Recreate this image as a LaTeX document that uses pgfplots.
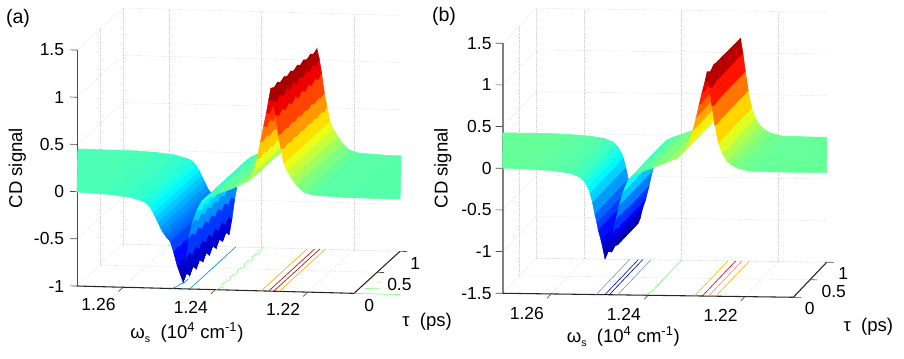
\documentclass[border=0pt]{standalone}
\usepackage{fontspec}
\setmainfont{Liberation Sans}
\usepackage{pgfplots}
\pgfplotsset{compat=1.18}
\newcommand\lab{\fontsize{13.1}{15}\selectfont}
\newcommand\labb{\fontsize{13.9}{16}\selectfont}
\pgfplotsset{common/.style={
 x dir=reverse,
 xmin=1.21,xmax=1.27,ymin=0,ymax=1,
 xtick={1.22,1.24,1.26},ytick={0,0.5,1},
 clip=false,
 grid=major,grid style={densely dotted,gray!40},
 axis line style={draw=none},major tick length=0pt,
 /pgf/number format/assume math mode=true,
 xticklabel style={/pgf/number format/fixed,/pgf/number format/precision=2,font=\lab,anchor=center,inner sep=0pt},
 yticklabel style={font=\lab,anchor=west,inner sep=0pt},
 zticklabel style={font=\lab,anchor=east,inner sep=0pt},
 colormap/jet,
 xlabel={ω\raisebox{-3pt}{\footnotesize s}\ \ (10\textsuperscript{4} cm\textsuperscript{-1})},
 ylabel={τ\ \ (ps)},zlabel={CD signal},
}}
\begin{document}
\begin{tikzpicture}
\useasboundingbox (0,0) rectangle (678pt,268.5pt);
\node[font=\fontsize{14.7}{17}\selectfont] at (13.5pt,255pt) {(a)};
\node[font=\fontsize{14.7}{17}\selectfont] at (333pt,256.5pt) {(b)};
\begin{axis}[common,
 at={(265.5pt,119.3pt)},anchor=origin,
 x={(3462.75pt,-91.3pt)},y={(34.5pt,31.5pt)},z={(0pt,70.8pt)},
 zmin=-1,zmax=1.5,ztick={-1,-0.5,0,0.5,1,1.5},
 point meta min=-0.95,point meta max=1.15,
 xticklabel style={xshift=-18.5pt,yshift=-13.2pt},
 yticklabel style={xshift=7.5pt,yshift=-9pt},
 zticklabel style={xshift=-9.5pt},
 every axis x label/.style={at={(axis cs:1.236,-1.021,-1)},anchor=center,font=\labb},
 every axis y label/.style={at={(axis cs:1.188,-0.62,-1)},anchor=center,font=\labb},
 every axis z label/.style={at={(axis cs:1.2829,0,0.233)},anchor=center,rotate=90,font=\labb},
]
\draw[black!70,line width=0.7pt] (axis cs:1.27,0,-1) -- (axis cs:1.27,0,1.5);
\draw[black!85,line width=0.8pt] (axis cs:1.27,0,-1) -- (axis cs:1.21,0,-1) -- (axis cs:1.21,1,-1);
\draw[black!70,line width=0.5pt]
 (axis cs:1.27,0,-1) -- (axis cs:1.2715,0,-1) (axis cs:1.27,0,-0.5) -- (axis cs:1.2715,0,-0.5)
 (axis cs:1.27,0,0) -- (axis cs:1.2715,0,0) (axis cs:1.27,0,0.5) -- (axis cs:1.2715,0,0.5)
 (axis cs:1.27,0,1) -- (axis cs:1.2715,0,1) (axis cs:1.27,0,1.5) -- (axis cs:1.2715,0,1.5)
 (axis cs:1.21,0,-1) -- (axis cs:1.2085,0,-1) (axis cs:1.21,0.5,-1) -- (axis cs:1.2085,0.5,-1)
 (axis cs:1.21,1,-1) -- (axis cs:1.2085,1,-1)
 (axis cs:1.26,0,-1) -- (axis cs:1.26,-0.1,-1) (axis cs:1.24,0,-1) -- (axis cs:1.24,-0.1,-1)
 (axis cs:1.22,0,-1) -- (axis cs:1.22,-0.1,-1);
\addplot3[color=cyan!60!blue,line width=0.45pt,forget plot] coordinates {(1.2494,0,-1)(1.2488,0.06,-1)(1.2488,0.1,-1)(1.2482,0.14,-1)(1.2482,0.23,-1)};
\addplot3[color=blue!50!cyan,line width=0.45pt,forget plot] coordinates {(1.2456,0,-1)(1.2456,1,-1)};
\addplot3[color=green!45!white,line width=0.5pt,forget plot] coordinates {(1.2398,0,-1)(1.2392,0.07,-1)(1.2398,0.15,-1)(1.2392,0.24,-1)(1.2398,0.3,-1)(1.2392,0.4,-1)(1.2398,0.46,-1)(1.2392,0.55,-1)(1.2398,0.62,-1)(1.2392,0.72,-1)(1.2398,0.79,-1)(1.2392,0.88,-1)(1.2398,1,-1)};
\addplot3[color=orange!70!yellow,line width=0.45pt,forget plot] coordinates {(1.2301,0,-1)(1.2301,1,-1)};
\addplot3[color=red!70!black,line width=0.45pt,forget plot] coordinates {(1.2285,0,-1)(1.2285,1,-1)};
\addplot3[color=red!70!black,line width=0.45pt,forget plot] coordinates {(1.2274,0,-1)(1.2274,1,-1)};
\addplot3[color=orange!70!yellow,line width=0.45pt,forget plot] coordinates {(1.2262,0,-1)(1.2262,1,-1)};
\addplot3[color=green!50!white,line width=0.5pt,forget plot] coordinates {(1.21,0,-1)(1.20,0,-1)};
\addplot3[color=green!50!white,line width=0.5pt,forget plot] coordinates {(1.2088,0.12,-1)(1.2056,0.12,-1)};
\addplot3[color=green!50!white,line width=0.5pt,forget plot] coordinates {(1.2078,0.276,-1)(1.2067,0.276,-1)};
\addplot3[surf,shader=flat,z buffer=none,mesh/cols=51] table {
1.2097 1 0.012
1.212 1 0.012
1.219 1 0.03
1.221 1 0.06
1.2225 1 0.13
1.2235 1 0.2
1.2245 1 0.28
1.2252 1 0.36
1.2258 1 0.51
1.2264 1 0.66
1.227 1 0.87
1.2275 1 1.02
1.228 1 1.12
1.2285 1 1.02
1.229 1 0.88
1.2296 1 0.74
1.2303 1 0.57
1.231 1 0.39
1.2318 1 0.24
1.2328 1 0.16
1.2345 1 0.12
1.2365 1 0.075
1.2405 1 0
1.242 1 -0.035
1.243 1 -0.07
1.2438 1 -0.145
1.2445 1 -0.23
1.2452 1 -0.335
1.2458 1 -0.49
1.2464 1 -0.705
1.247 1 -0.87
1.2476 1 -0.85
1.2483 1 -0.755
1.2491 1 -0.61
1.2498 1 -0.5
1.2502 1 -0.48
1.2506 1 -0.46
1.251 1 -0.43
1.2515 1 -0.4
1.252 1 -0.35
1.2525 1 -0.3
1.253 1 -0.25
1.2535 1 -0.2
1.2541 1 -0.15
1.2548 1 -0.11
1.2556 1 -0.085
1.2565 1 -0.07
1.259 1 -0.04
1.263 1 -0.02
1.267 1 -0.01
1.2797 1 -0.005

1.2091 0.929 0.012
1.212 0.929 0.012
1.219 0.929 0.03
1.221 0.929 0.06
1.2225 0.929 0.13
1.2235 0.929 0.2
1.2245 0.929 0.28
1.2252 0.929 0.36
1.2258 0.929 0.49
1.2264 0.929 0.64
1.227 0.929 0.83
1.2275 0.929 0.98
1.228 0.929 1.097
1.2285 0.929 0.98
1.229 0.929 0.84
1.2296 0.929 0.7
1.2303 0.929 0.55
1.231 0.929 0.37
1.2318 0.929 0.24
1.2328 0.929 0.16
1.2345 0.929 0.12
1.2365 0.929 0.075
1.2405 0.929 0
1.242 0.929 -0.035
1.243 0.929 -0.07
1.2438 0.929 -0.135
1.2445 0.929 -0.21
1.2452 0.929 -0.305
1.2458 0.929 -0.45
1.2464 0.929 -0.655
1.247 0.929 -0.814
1.2476 0.929 -0.81
1.2483 0.929 -0.725
1.2491 0.929 -0.59
1.2498 0.929 -0.5
1.2502 0.929 -0.48
1.2506 0.929 -0.46
1.251 0.929 -0.43
1.2515 0.929 -0.4
1.252 0.929 -0.35
1.2525 0.929 -0.3
1.253 0.929 -0.25
1.2535 0.929 -0.2
1.2541 0.929 -0.15
1.2548 0.929 -0.11
1.2556 0.929 -0.085
1.2565 0.929 -0.07
1.259 0.929 -0.04
1.263 0.929 -0.02
1.267 0.929 -0.01
1.2791 0.929 -0.005

1.2084 0.857 0.012
1.212 0.857 0.012
1.219 0.857 0.03
1.221 0.857 0.06
1.2225 0.857 0.13
1.2235 0.857 0.2
1.2245 0.857 0.28
1.2252 0.857 0.36
1.2258 0.857 0.51
1.2264 0.857 0.66
1.227 0.857 0.87
1.2275 0.857 1.02
1.228 0.857 1.124
1.2285 0.857 1.02
1.229 0.857 0.88
1.2296 0.857 0.74
1.2303 0.857 0.57
1.231 0.857 0.39
1.2318 0.857 0.24
1.2328 0.857 0.16
1.2345 0.857 0.12
1.2365 0.857 0.075
1.2405 0.857 0
1.242 0.857 -0.035
1.243 0.857 -0.07
1.2438 0.857 -0.145
1.2445 0.857 -0.23
1.2452 0.857 -0.335
1.2458 0.857 -0.49
1.2464 0.857 -0.705
1.247 0.857 -0.879
1.2476 0.857 -0.85
1.2483 0.857 -0.755
1.2491 0.857 -0.61
1.2498 0.857 -0.5
1.2502 0.857 -0.48
1.2506 0.857 -0.46
1.251 0.857 -0.43
1.2515 0.857 -0.4
1.252 0.857 -0.35
1.2525 0.857 -0.3
1.253 0.857 -0.25
1.2535 0.857 -0.2
1.2541 0.857 -0.15
1.2548 0.857 -0.11
1.2556 0.857 -0.085
1.2565 0.857 -0.07
1.259 0.857 -0.04
1.263 0.857 -0.02
1.267 0.857 -0.01
1.2784 0.857 -0.005

1.2077 0.786 0.012
1.212 0.786 0.012
1.219 0.786 0.03
1.221 0.786 0.06
1.2225 0.786 0.13
1.2235 0.786 0.2
1.2245 0.786 0.28
1.2252 0.786 0.36
1.2258 0.786 0.49
1.2264 0.786 0.64
1.227 0.786 0.83
1.2275 0.786 0.98
1.228 0.786 1.101
1.2285 0.786 0.98
1.229 0.786 0.84
1.2296 0.786 0.7
1.2303 0.786 0.55
1.231 0.786 0.37
1.2318 0.786 0.24
1.2328 0.786 0.16
1.2345 0.786 0.12
1.2365 0.786 0.075
1.2405 0.786 0
1.242 0.786 -0.035
1.243 0.786 -0.07
1.2438 0.786 -0.135
1.2445 0.786 -0.21
1.2452 0.786 -0.305
1.2458 0.786 -0.45
1.2464 0.786 -0.655
1.247 0.786 -0.823
1.2476 0.786 -0.81
1.2483 0.786 -0.725
1.2491 0.786 -0.59
1.2498 0.786 -0.5
1.2502 0.786 -0.48
1.2506 0.786 -0.46
1.251 0.786 -0.43
1.2515 0.786 -0.4
1.252 0.786 -0.35
1.2525 0.786 -0.3
1.253 0.786 -0.25
1.2535 0.786 -0.2
1.2541 0.786 -0.15
1.2548 0.786 -0.11
1.2556 0.786 -0.085
1.2565 0.786 -0.07
1.259 0.786 -0.04
1.263 0.786 -0.02
1.267 0.786 -0.01
1.2777 0.786 -0.005

1.207 0.714 0.012
1.212 0.714 0.012
1.219 0.714 0.03
1.221 0.714 0.06
1.2225 0.714 0.13
1.2235 0.714 0.2
1.2245 0.714 0.28
1.2252 0.714 0.36
1.2258 0.714 0.51
1.2264 0.714 0.66
1.227 0.714 0.87
1.2275 0.714 1.02
1.228 0.714 1.129
1.2285 0.714 1.02
1.229 0.714 0.88
1.2296 0.714 0.74
1.2303 0.714 0.57
1.231 0.714 0.39
1.2318 0.714 0.24
1.2328 0.714 0.16
1.2345 0.714 0.12
1.2365 0.714 0.075
1.2405 0.714 0
1.242 0.714 -0.035
1.243 0.714 -0.07
1.2438 0.714 -0.145
1.2445 0.714 -0.23
1.2452 0.714 -0.335
1.2458 0.714 -0.49
1.2464 0.714 -0.705
1.247 0.714 -0.887
1.2476 0.714 -0.85
1.2483 0.714 -0.755
1.2491 0.714 -0.61
1.2498 0.714 -0.5
1.2502 0.714 -0.48
1.2506 0.714 -0.46
1.251 0.714 -0.43
1.2515 0.714 -0.4
1.252 0.714 -0.35
1.2525 0.714 -0.3
1.253 0.714 -0.25
1.2535 0.714 -0.2
1.2541 0.714 -0.15
1.2548 0.714 -0.11
1.2556 0.714 -0.085
1.2565 0.714 -0.07
1.259 0.714 -0.04
1.263 0.714 -0.02
1.267 0.714 -0.01
1.277 0.714 -0.005

1.2063 0.643 0.012
1.212 0.643 0.012
1.219 0.643 0.03
1.221 0.643 0.06
1.2225 0.643 0.13
1.2235 0.643 0.2
1.2245 0.643 0.28
1.2252 0.643 0.36
1.2258 0.643 0.49
1.2264 0.643 0.64
1.227 0.643 0.83
1.2275 0.643 0.98
1.228 0.643 1.106
1.2285 0.643 0.98
1.229 0.643 0.84
1.2296 0.643 0.7
1.2303 0.643 0.55
1.231 0.643 0.37
1.2318 0.643 0.24
1.2328 0.643 0.16
1.2345 0.643 0.12
1.2365 0.643 0.075
1.2405 0.643 0
1.242 0.643 -0.035
1.243 0.643 -0.07
1.2438 0.643 -0.135
1.2445 0.643 -0.21
1.2452 0.643 -0.305
1.2458 0.643 -0.45
1.2464 0.643 -0.655
1.247 0.643 -0.831
1.2476 0.643 -0.81
1.2483 0.643 -0.725
1.2491 0.643 -0.59
1.2498 0.643 -0.5
1.2502 0.643 -0.48
1.2506 0.643 -0.46
1.251 0.643 -0.43
1.2515 0.643 -0.4
1.252 0.643 -0.35
1.2525 0.643 -0.3
1.253 0.643 -0.25
1.2535 0.643 -0.2
1.2541 0.643 -0.15
1.2548 0.643 -0.11
1.2556 0.643 -0.085
1.2565 0.643 -0.07
1.259 0.643 -0.04
1.263 0.643 -0.02
1.267 0.643 -0.01
1.2763 0.643 -0.005

1.2056 0.571 0.012
1.212 0.571 0.012
1.219 0.571 0.03
1.221 0.571 0.06
1.2225 0.571 0.13
1.2235 0.571 0.2
1.2245 0.571 0.28
1.2252 0.571 0.36
1.2258 0.571 0.51
1.2264 0.571 0.66
1.227 0.571 0.87
1.2275 0.571 1.02
1.228 0.571 1.133
1.2285 0.571 1.02
1.229 0.571 0.88
1.2296 0.571 0.74
1.2303 0.571 0.57
1.231 0.571 0.39
1.2318 0.571 0.24
1.2328 0.571 0.16
1.2345 0.571 0.12
1.2365 0.571 0.075
1.2405 0.571 0
1.242 0.571 -0.035
1.243 0.571 -0.07
1.2438 0.571 -0.145
1.2445 0.571 -0.23
1.2452 0.571 -0.335
1.2458 0.571 -0.49
1.2464 0.571 -0.705
1.247 0.571 -0.896
1.2476 0.571 -0.85
1.2483 0.571 -0.755
1.2491 0.571 -0.61
1.2498 0.571 -0.5
1.2502 0.571 -0.48
1.2506 0.571 -0.46
1.251 0.571 -0.43
1.2515 0.571 -0.4
1.252 0.571 -0.35
1.2525 0.571 -0.3
1.253 0.571 -0.25
1.2535 0.571 -0.2
1.2541 0.571 -0.15
1.2548 0.571 -0.11
1.2556 0.571 -0.085
1.2565 0.571 -0.07
1.259 0.571 -0.04
1.263 0.571 -0.02
1.267 0.571 -0.01
1.2756 0.571 -0.005

1.2049 0.5 0.012
1.212 0.5 0.012
1.219 0.5 0.03
1.221 0.5 0.06
1.2225 0.5 0.13
1.2235 0.5 0.2
1.2245 0.5 0.28
1.2252 0.5 0.36
1.2258 0.5 0.49
1.2264 0.5 0.64
1.227 0.5 0.83
1.2275 0.5 0.98
1.228 0.5 1.11
1.2285 0.5 0.98
1.229 0.5 0.84
1.2296 0.5 0.7
1.2303 0.5 0.55
1.231 0.5 0.37
1.2318 0.5 0.24
1.2328 0.5 0.16
1.2345 0.5 0.12
1.2365 0.5 0.075
1.2405 0.5 0
1.242 0.5 -0.035
1.243 0.5 -0.07
1.2438 0.5 -0.135
1.2445 0.5 -0.21
1.2452 0.5 -0.305
1.2458 0.5 -0.45
1.2464 0.5 -0.655
1.247 0.5 -0.84
1.2476 0.5 -0.81
1.2483 0.5 -0.725
1.2491 0.5 -0.59
1.2498 0.5 -0.5
1.2502 0.5 -0.48
1.2506 0.5 -0.46
1.251 0.5 -0.43
1.2515 0.5 -0.4
1.252 0.5 -0.35
1.2525 0.5 -0.3
1.253 0.5 -0.25
1.2535 0.5 -0.2
1.2541 0.5 -0.15
1.2548 0.5 -0.11
1.2556 0.5 -0.085
1.2565 0.5 -0.07
1.259 0.5 -0.04
1.263 0.5 -0.02
1.267 0.5 -0.01
1.2749 0.5 -0.005

1.2042 0.429 0.012
1.212 0.429 0.012
1.219 0.429 0.03
1.221 0.429 0.06
1.2225 0.429 0.13
1.2235 0.429 0.2
1.2245 0.429 0.28
1.2252 0.429 0.36
1.2258 0.429 0.51
1.2264 0.429 0.66
1.227 0.429 0.87
1.2275 0.429 1.02
1.228 0.429 1.137
1.2285 0.429 1.02
1.229 0.429 0.88
1.2296 0.429 0.74
1.2303 0.429 0.57
1.231 0.429 0.39
1.2318 0.429 0.24
1.2328 0.429 0.16
1.2345 0.429 0.12
1.2365 0.429 0.075
1.2405 0.429 0
1.242 0.429 -0.035
1.243 0.429 -0.07
1.2438 0.429 -0.145
1.2445 0.429 -0.23
1.2452 0.429 -0.335
1.2458 0.429 -0.49
1.2464 0.429 -0.705
1.247 0.429 -0.904
1.2476 0.429 -0.85
1.2483 0.429 -0.755
1.2491 0.429 -0.61
1.2498 0.429 -0.5
1.2502 0.429 -0.48
1.2506 0.429 -0.46
1.251 0.429 -0.43
1.2515 0.429 -0.4
1.252 0.429 -0.35
1.2525 0.429 -0.3
1.253 0.429 -0.25
1.2535 0.429 -0.2
1.2541 0.429 -0.15
1.2548 0.429 -0.11
1.2556 0.429 -0.085
1.2565 0.429 -0.07
1.259 0.429 -0.04
1.263 0.429 -0.02
1.267 0.429 -0.01
1.2742 0.429 -0.005

1.2035 0.357 0.012
1.212 0.357 0.012
1.219 0.357 0.03
1.221 0.357 0.06
1.2225 0.357 0.13
1.2235 0.357 0.2
1.2245 0.357 0.28
1.2252 0.357 0.36
1.2258 0.357 0.49
1.2264 0.357 0.64
1.227 0.357 0.83
1.2275 0.357 0.98
1.228 0.357 1.114
1.2285 0.357 0.98
1.229 0.357 0.84
1.2296 0.357 0.7
1.2303 0.357 0.55
1.231 0.357 0.37
1.2318 0.357 0.24
1.2328 0.357 0.16
1.2345 0.357 0.12
1.2365 0.357 0.075
1.2405 0.357 0
1.242 0.357 -0.035
1.243 0.357 -0.07
1.2438 0.357 -0.135
1.2445 0.357 -0.21
1.2452 0.357 -0.305
1.2458 0.357 -0.45
1.2464 0.357 -0.655
1.247 0.357 -0.849
1.2476 0.357 -0.81
1.2483 0.357 -0.725
1.2491 0.357 -0.59
1.2498 0.357 -0.5
1.2502 0.357 -0.48
1.2506 0.357 -0.46
1.251 0.357 -0.43
1.2515 0.357 -0.4
1.252 0.357 -0.35
1.2525 0.357 -0.3
1.253 0.357 -0.25
1.2535 0.357 -0.2
1.2541 0.357 -0.15
1.2548 0.357 -0.11
1.2556 0.357 -0.085
1.2565 0.357 -0.07
1.259 0.357 -0.04
1.263 0.357 -0.02
1.267 0.357 -0.01
1.2735 0.357 -0.005

1.2028 0.286 0.012
1.212 0.286 0.012
1.219 0.286 0.03
1.221 0.286 0.06
1.2225 0.286 0.13
1.2235 0.286 0.2
1.2245 0.286 0.28
1.2252 0.286 0.36
1.2258 0.286 0.51
1.2264 0.286 0.66
1.227 0.286 0.87
1.2275 0.286 1.02
1.228 0.286 1.141
1.2285 0.286 1.02
1.229 0.286 0.88
1.2296 0.286 0.74
1.2303 0.286 0.57
1.231 0.286 0.39
1.2318 0.286 0.24
1.2328 0.286 0.16
1.2345 0.286 0.12
1.2365 0.286 0.075
1.2405 0.286 0
1.242 0.286 -0.035
1.243 0.286 -0.07
1.2438 0.286 -0.145
1.2445 0.286 -0.23
1.2452 0.286 -0.335
1.2458 0.286 -0.49
1.2464 0.286 -0.705
1.247 0.286 -0.913
1.2476 0.286 -0.85
1.2483 0.286 -0.755
1.2491 0.286 -0.61
1.2498 0.286 -0.5
1.2502 0.286 -0.48
1.2506 0.286 -0.46
1.251 0.286 -0.43
1.2515 0.286 -0.4
1.252 0.286 -0.35
1.2525 0.286 -0.3
1.253 0.286 -0.25
1.2535 0.286 -0.2
1.2541 0.286 -0.15
1.2548 0.286 -0.11
1.2556 0.286 -0.085
1.2565 0.286 -0.07
1.259 0.286 -0.04
1.263 0.286 -0.02
1.267 0.286 -0.01
1.2728 0.286 -0.005

1.2021 0.214 0.012
1.212 0.214 0.012
1.219 0.214 0.03
1.221 0.214 0.06
1.2225 0.214 0.13
1.2235 0.214 0.2
1.2245 0.214 0.28
1.2252 0.214 0.36
1.2258 0.214 0.49
1.2264 0.214 0.64
1.227 0.214 0.83
1.2275 0.214 0.98
1.228 0.214 1.119
1.2285 0.214 0.98
1.229 0.214 0.84
1.2296 0.214 0.7
1.2303 0.214 0.55
1.231 0.214 0.37
1.2318 0.214 0.24
1.2328 0.214 0.16
1.2345 0.214 0.12
1.2365 0.214 0.075
1.2405 0.214 0
1.242 0.214 -0.035
1.243 0.214 -0.07
1.2438 0.214 -0.135
1.2445 0.214 -0.21
1.2452 0.214 -0.305
1.2458 0.214 -0.45
1.2464 0.214 -0.655
1.247 0.214 -0.857
1.2476 0.214 -0.81
1.2483 0.214 -0.725
1.2491 0.214 -0.59
1.2498 0.214 -0.5
1.2502 0.214 -0.48
1.2506 0.214 -0.46
1.251 0.214 -0.43
1.2515 0.214 -0.4
1.252 0.214 -0.35
1.2525 0.214 -0.3
1.253 0.214 -0.25
1.2535 0.214 -0.2
1.2541 0.214 -0.15
1.2548 0.214 -0.11
1.2556 0.214 -0.085
1.2565 0.214 -0.07
1.259 0.214 -0.04
1.263 0.214 -0.02
1.267 0.214 -0.01
1.2721 0.214 -0.005

1.2014 0.143 0.012
1.212 0.143 0.012
1.219 0.143 0.03
1.221 0.143 0.06
1.2225 0.143 0.13
1.2235 0.143 0.2
1.2245 0.143 0.28
1.2252 0.143 0.36
1.2258 0.143 0.51
1.2264 0.143 0.66
1.227 0.143 0.87
1.2275 0.143 1.02
1.228 0.143 1.146
1.2285 0.143 1.02
1.229 0.143 0.88
1.2296 0.143 0.74
1.2303 0.143 0.57
1.231 0.143 0.39
1.2318 0.143 0.24
1.2328 0.143 0.16
1.2345 0.143 0.12
1.2365 0.143 0.075
1.2405 0.143 0
1.242 0.143 -0.035
1.243 0.143 -0.07
1.2438 0.143 -0.145
1.2445 0.143 -0.23
1.2452 0.143 -0.335
1.2458 0.143 -0.49
1.2464 0.143 -0.705
1.247 0.143 -0.921
1.2476 0.143 -0.85
1.2483 0.143 -0.755
1.2491 0.143 -0.61
1.2498 0.143 -0.5
1.2502 0.143 -0.48
1.2506 0.143 -0.46
1.251 0.143 -0.43
1.2515 0.143 -0.4
1.252 0.143 -0.35
1.2525 0.143 -0.3
1.253 0.143 -0.25
1.2535 0.143 -0.2
1.2541 0.143 -0.15
1.2548 0.143 -0.11
1.2556 0.143 -0.085
1.2565 0.143 -0.07
1.259 0.143 -0.04
1.263 0.143 -0.02
1.267 0.143 -0.01
1.2714 0.143 -0.005

1.2007 0.071 0.012
1.212 0.071 0.012
1.219 0.071 0.03
1.221 0.071 0.06
1.2225 0.071 0.13
1.2235 0.071 0.2
1.2245 0.071 0.28
1.2252 0.071 0.36
1.2258 0.071 0.49
1.2264 0.071 0.64
1.227 0.071 0.83
1.2275 0.071 0.98
1.228 0.071 1.123
1.2285 0.071 0.98
1.229 0.071 0.84
1.2296 0.071 0.7
1.2303 0.071 0.55
1.231 0.071 0.37
1.2318 0.071 0.24
1.2328 0.071 0.16
1.2345 0.071 0.12
1.2365 0.071 0.075
1.2405 0.071 0
1.242 0.071 -0.035
1.243 0.071 -0.07
1.2438 0.071 -0.135
1.2445 0.071 -0.21
1.2452 0.071 -0.305
1.2458 0.071 -0.45
1.2464 0.071 -0.655
1.247 0.071 -0.866
1.2476 0.071 -0.81
1.2483 0.071 -0.725
1.2491 0.071 -0.59
1.2498 0.071 -0.5
1.2502 0.071 -0.48
1.2506 0.071 -0.46
1.251 0.071 -0.43
1.2515 0.071 -0.4
1.252 0.071 -0.35
1.2525 0.071 -0.3
1.253 0.071 -0.25
1.2535 0.071 -0.2
1.2541 0.071 -0.15
1.2548 0.071 -0.11
1.2556 0.071 -0.085
1.2565 0.071 -0.07
1.259 0.071 -0.04
1.263 0.071 -0.02
1.267 0.071 -0.01
1.2707 0.071 -0.005

1.2 0 0.012
1.212 0 0.012
1.219 0 0.03
1.221 0 0.06
1.2225 0 0.13
1.2235 0 0.2
1.2245 0 0.28
1.2252 0 0.36
1.2258 0 0.51
1.2264 0 0.66
1.227 0 0.87
1.2275 0 1.02
1.228 0 1.15
1.2285 0 1.02
1.229 0 0.88
1.2296 0 0.74
1.2303 0 0.57
1.231 0 0.39
1.2318 0 0.24
1.2328 0 0.16
1.2345 0 0.12
1.2365 0 0.075
1.2405 0 0
1.242 0 -0.035
1.243 0 -0.07
1.2438 0 -0.145
1.2445 0 -0.23
1.2452 0 -0.335
1.2458 0 -0.49
1.2464 0 -0.705
1.247 0 -0.93
1.2476 0 -0.85
1.2483 0 -0.755
1.2491 0 -0.61
1.2498 0 -0.5
1.2502 0 -0.48
1.2506 0 -0.46
1.251 0 -0.43
1.2515 0 -0.4
1.252 0 -0.35
1.2525 0 -0.3
1.253 0 -0.25
1.2535 0 -0.2
1.2541 0 -0.15
1.2548 0 -0.11
1.2556 0 -0.085
1.2565 0 -0.07
1.259 0 -0.04
1.263 0 -0.02
1.267 0 -0.01
1.27 0 -0.005
};
\end{axis}
\begin{axis}[common,
 at={(595pt,139.3pt)},anchor=origin,
 x={(3632pt,-50pt)},y={(25pt,26.25pt)},z={(0pt,62.5pt)},
 zmin=-1.5,zmax=1.5,ztick={-1.5,-1,-0.5,0,0.5,1,1.5},
 point meta min=-1.1,point meta max=1.22,
 xticklabel style={xshift=-18.2pt,yshift=-14.3pt},
 yticklabel style={xshift=8.5pt,yshift=-8.5pt},
 zticklabel style={xshift=-8.25pt},
 every axis x label/.style={at={(axis cs:1.237,-1.177,-1.5)},anchor=center,font=\labb},
 every axis y label/.style={at={(axis cs:1.189,-0.8,-1.5)},anchor=center,font=\labb},
 every axis z label/.style={at={(axis cs:1.2824,0,-0.009)},anchor=center,rotate=90,font=\labb},
]
\draw[black!50,line width=1.2pt] (axis cs:1.27,0,-1.5) -- (axis cs:1.27,0,1.5);
\draw[black!85,line width=0.8pt] (axis cs:1.27,0,-1.5) -- (axis cs:1.21,0,-1.5) -- (axis cs:1.21,1,-1.5);
\draw[black!70,line width=0.5pt]
 (axis cs:1.27,0,-1.5) -- (axis cs:1.2715,0,-1.5) (axis cs:1.27,0,-1) -- (axis cs:1.2715,0,-1)
 (axis cs:1.27,0,-0.5) -- (axis cs:1.2715,0,-0.5) (axis cs:1.27,0,0) -- (axis cs:1.2715,0,0)
 (axis cs:1.27,0,0.5) -- (axis cs:1.2715,0,0.5) (axis cs:1.27,0,1) -- (axis cs:1.2715,0,1)
 (axis cs:1.27,0,1.5) -- (axis cs:1.2715,0,1.5)
 (axis cs:1.21,0,-1.5) -- (axis cs:1.2083,0,-1.5) (axis cs:1.21,0.5,-1.5) -- (axis cs:1.2085,0.5,-1.5)
 (axis cs:1.21,1,-1.5) -- (axis cs:1.2085,1,-1.5)
 (axis cs:1.26,0,-1.5) -- (axis cs:1.26,-0.12,-1.5) (axis cs:1.24,0,-1.5) -- (axis cs:1.24,-0.12,-1.5)
 (axis cs:1.22,0,-1.5) -- (axis cs:1.22,-0.12,-1.5);
\addplot3[color=cyan!50!blue!60,line width=0.45pt,forget plot] coordinates {(1.2507,0,-1.5)(1.2507,1,-1.5)};
\addplot3[color=blue!70!black,line width=0.45pt,forget plot] coordinates {(1.2489,0,-1.5)(1.2489,1,-1.5)};
\addplot3[color=blue!70!black,line width=0.45pt,forget plot] coordinates {(1.248,0,-1.5)(1.248,1,-1.5)};
\addplot3[color=cyan!50!blue!60,line width=0.45pt,forget plot] coordinates {(1.2463,0,-1.5)(1.2463,1,-1.5)};
\addplot3[color=green!50!white,line width=0.5pt,forget plot] coordinates {(1.2406,0,-1.5)(1.24,0.1,-1.5)(1.24,1,-1.5)};
\addplot3[color=orange!60!yellow,line width=0.45pt,forget plot] coordinates {(1.2304,0,-1.5)(1.2304,1,-1.5)};
\addplot3[color=red!80!black,line width=0.45pt,forget plot] coordinates {(1.2288,0,-1.5)(1.2288,1,-1.5)};
\addplot3[color=red!50!white,line width=0.45pt,forget plot] coordinates {(1.2275,0,-1.5)(1.2275,1,-1.5)};
\addplot3[color=orange!60!yellow,line width=0.45pt,forget plot] coordinates {(1.226,0,-1.5)(1.226,1,-1.5)};
\addplot3[surf,shader=flat,z buffer=none,mesh/cols=48] table {
1.2100 1 0
1.212 1 0
1.219 1 0.005
1.2215 1 0.04
1.2228 1 0.08
1.2238 1 0.13
1.2247 1 0.22
1.2255 1 0.34
1.2262 1 0.55
1.2268 1 0.78
1.2273 1 1.0
1.2278 1 1.17
1.2283 1 1.06
1.2289 1 0.93
1.2295 1 0.78
1.2301 1 0.63
1.2308 1 0.47
1.2316 1 0.32
1.2325 1 0.23
1.234 1 0.15
1.2365 1 0.09
1.2395 1 0.02
1.2415 1 -0.02
1.243 1 -0.06
1.2442 1 -0.13
1.2452 1 -0.28
1.246 1 -0.44
1.2467 1 -0.62
1.2474 1 -0.78
1.248 1 -0.88
1.2485 1 -1.0
1.2489 1 -1.06
1.2493 1 -0.95
1.2497 1 -0.85
1.2503 1 -0.72
1.2506 1 -0.63
1.251 1 -0.53
1.2515 1 -0.39
1.252 1 -0.28
1.2525 1 -0.21
1.253 1 -0.16
1.2536 1 -0.12
1.2542 1 -0.09
1.256 1 -0.05
1.259 1 -0.025
1.263 1 -0.01
1.2675 1 0
1.2769 1 0

1.2086 0.8 0
1.212 0.8 0
1.219 0.8 0.005
1.2215 0.8 0.04
1.2228 0.8 0.08
1.2238 0.8 0.13
1.2247 0.8 0.22
1.2255 0.8 0.34
1.2262 0.8 0.55
1.2268 0.8 0.78
1.2273 0.8 1.0
1.2278 0.8 1.17
1.2283 0.8 1.06
1.2289 0.8 0.93
1.2295 0.8 0.78
1.2301 0.8 0.63
1.2308 0.8 0.47
1.2316 0.8 0.32
1.2325 0.8 0.23
1.234 0.8 0.15
1.2365 0.8 0.09
1.2395 0.8 0.02
1.2415 0.8 -0.02
1.243 0.8 -0.06
1.2442 0.8 -0.13
1.2452 0.8 -0.28
1.246 0.8 -0.44
1.2467 0.8 -0.62
1.2474 0.8 -0.78
1.248 0.8 -0.88
1.2485 0.8 -1.0
1.2489 0.8 -1.06
1.2493 0.8 -0.95
1.2497 0.8 -0.85
1.2503 0.8 -0.72
1.2506 0.8 -0.63
1.251 0.8 -0.53
1.2515 0.8 -0.39
1.252 0.8 -0.28
1.2525 0.8 -0.21
1.253 0.8 -0.16
1.2536 0.8 -0.12
1.2542 0.8 -0.09
1.256 0.8 -0.05
1.259 0.8 -0.025
1.263 0.8 -0.01
1.2675 0.8 0
1.2755 0.8 0

1.2072 0.6 0
1.212 0.6 0
1.219 0.6 0.005
1.2215 0.6 0.04
1.2228 0.6 0.08
1.2238 0.6 0.13
1.2247 0.6 0.22
1.2255 0.6 0.34
1.2262 0.6 0.55
1.2268 0.6 0.78
1.2273 0.6 1.0
1.2278 0.6 1.175
1.2283 0.6 1.06
1.2289 0.6 0.93
1.2295 0.6 0.78
1.2301 0.6 0.63
1.2308 0.6 0.47
1.2316 0.6 0.32
1.2325 0.6 0.23
1.234 0.6 0.15
1.2365 0.6 0.09
1.2395 0.6 0.02
1.2415 0.6 -0.02
1.243 0.6 -0.06
1.2442 0.6 -0.13
1.2452 0.6 -0.28
1.246 0.6 -0.44
1.2467 0.6 -0.62
1.2474 0.6 -0.78
1.248 0.6 -0.88
1.2485 0.6 -1.0
1.2489 0.6 -1.06
1.2493 0.6 -0.95
1.2497 0.6 -0.85
1.2503 0.6 -0.72
1.2506 0.6 -0.63
1.251 0.6 -0.53
1.2515 0.6 -0.39
1.252 0.6 -0.28
1.2525 0.6 -0.21
1.253 0.6 -0.16
1.2536 0.6 -0.12
1.2542 0.6 -0.09
1.256 0.6 -0.05
1.259 0.6 -0.025
1.263 0.6 -0.01
1.2675 0.6 0
1.2741 0.6 0

1.2065 0.5 0
1.212 0.5 0
1.219 0.5 0.005
1.2215 0.5 0.04
1.2228 0.5 0.08
1.2238 0.5 0.13
1.2247 0.5 0.22
1.2255 0.5 0.34
1.2262 0.5 0.55
1.2268 0.5 0.78
1.2273 0.5 1.0
1.2278 0.5 1.18
1.2283 0.5 1.06
1.2289 0.5 0.93
1.2295 0.5 0.78
1.2301 0.5 0.63
1.2308 0.5 0.47
1.2316 0.5 0.32
1.2325 0.5 0.23
1.234 0.5 0.15
1.2365 0.5 0.09
1.2395 0.5 0.02
1.2415 0.5 -0.02
1.243 0.5 -0.06
1.2442 0.5 -0.13
1.2452 0.5 -0.28
1.246 0.5 -0.44
1.2467 0.5 -0.62
1.2474 0.5 -0.78
1.248 0.5 -0.88
1.2485 0.5 -1.0
1.2489 0.5 -1.06
1.2493 0.5 -0.95
1.2497 0.5 -0.85
1.2503 0.5 -0.72
1.2506 0.5 -0.63
1.251 0.5 -0.53
1.2515 0.5 -0.39
1.252 0.5 -0.28
1.2525 0.5 -0.21
1.253 0.5 -0.16
1.2536 0.5 -0.12
1.2542 0.5 -0.09
1.256 0.5 -0.05
1.259 0.5 -0.025
1.263 0.5 -0.01
1.2675 0.5 0
1.2734 0.5 0

1.2059 0.4 0
1.212 0.4 0
1.219 0.4 0.005
1.2215 0.4 0.04
1.2228 0.4 0.08
1.2238 0.4 0.13
1.2247 0.4 0.22
1.2255 0.4 0.34
1.2262 0.4 0.55
1.2268 0.4 0.78
1.2273 0.4 1.0
1.2278 0.4 1.18
1.2283 0.4 1.06
1.2289 0.4 0.93
1.2295 0.4 0.78
1.2301 0.4 0.63
1.2308 0.4 0.47
1.2316 0.4 0.32
1.2325 0.4 0.23
1.234 0.4 0.15
1.2365 0.4 0.09
1.2395 0.4 0.02
1.2415 0.4 -0.02
1.243 0.4 -0.06
1.2442 0.4 -0.13
1.2452 0.4 -0.28
1.246 0.4 -0.44
1.2467 0.4 -0.62
1.2474 0.4 -0.78
1.248 0.4 -0.88
1.2485 0.4 -1.0
1.2489 0.4 -1.06
1.2493 0.4 -0.95
1.2497 0.4 -0.85
1.2503 0.4 -0.72
1.2506 0.4 -0.63
1.251 0.4 -0.53
1.2515 0.4 -0.39
1.252 0.4 -0.28
1.2525 0.4 -0.21
1.253 0.4 -0.16
1.2536 0.4 -0.12
1.2542 0.4 -0.09
1.256 0.4 -0.05
1.259 0.4 -0.025
1.263 0.4 -0.01
1.2675 0.4 0
1.2728 0.4 0

1.2052 0.3 0
1.212 0.3 0
1.219 0.3 0.005
1.2215 0.3 0.04
1.2228 0.3 0.08
1.2238 0.3 0.13
1.2247 0.3 0.22
1.2255 0.3 0.34
1.2262 0.3 0.55
1.2268 0.3 0.78
1.2273 0.3 1.0
1.2278 0.3 1.18
1.2283 0.3 1.05
1.2289 0.3 0.92
1.2295 0.3 0.78
1.2301 0.3 0.63
1.2308 0.3 0.47
1.2316 0.3 0.32
1.2325 0.3 0.23
1.234 0.3 0.15
1.2365 0.3 0.09
1.2395 0.3 0.02
1.2415 0.3 -0.02
1.243 0.3 -0.06
1.2442 0.3 -0.13
1.2452 0.3 -0.28
1.246 0.3 -0.44
1.2467 0.3 -0.61
1.2474 0.3 -0.77
1.248 0.3 -0.87
1.2485 0.3 -0.99
1.2489 0.3 -1.04
1.2493 0.3 -0.94
1.2497 0.3 -0.84
1.2503 0.3 -0.72
1.2506 0.3 -0.63
1.251 0.3 -0.53
1.2515 0.3 -0.39
1.252 0.3 -0.28
1.2525 0.3 -0.21
1.253 0.3 -0.16
1.2536 0.3 -0.12
1.2542 0.3 -0.09
1.256 0.3 -0.05
1.259 0.3 -0.025
1.263 0.3 -0.01
1.2675 0.3 0
1.2721 0.3 0

1.2045 0.2 0
1.212 0.2 0
1.219 0.2 0.005
1.2215 0.2 0.04
1.2228 0.2 0.08
1.2238 0.2 0.13
1.2247 0.2 0.22
1.2255 0.2 0.34
1.2262 0.2 0.55
1.2268 0.2 0.78
1.2273 0.2 1.0
1.2278 0.2 1.19
1.2283 0.2 1.06
1.2289 0.2 0.93
1.2295 0.2 0.78
1.2301 0.2 0.63
1.2308 0.2 0.47
1.2316 0.2 0.32
1.2325 0.2 0.23
1.234 0.2 0.15
1.2365 0.2 0.09
1.2395 0.2 0.02
1.2415 0.2 -0.02
1.243 0.2 -0.06
1.2442 0.2 -0.13
1.2452 0.2 -0.28
1.246 0.2 -0.44
1.2467 0.2 -0.62
1.2474 0.2 -0.78
1.248 0.2 -0.88
1.2485 0.2 -1.0
1.2489 0.2 -1.07
1.2493 0.2 -0.95
1.2497 0.2 -0.85
1.2503 0.2 -0.72
1.2506 0.2 -0.63
1.251 0.2 -0.53
1.2515 0.2 -0.39
1.252 0.2 -0.28
1.2525 0.2 -0.21
1.253 0.2 -0.16
1.2536 0.2 -0.12
1.2542 0.2 -0.09
1.256 0.2 -0.05
1.259 0.2 -0.025
1.263 0.2 -0.01
1.2675 0.2 0
1.2714 0.2 0

1.2038 0.1 0
1.212 0.1 0
1.219 0.1 0.005
1.2215 0.1 0.04
1.2228 0.1 0.08
1.2238 0.1 0.13
1.2247 0.1 0.22
1.2255 0.1 0.34
1.2262 0.1 0.54
1.2268 0.1 0.76
1.2273 0.1 0.97
1.2278 0.1 1.15
1.2283 0.1 1.03
1.2289 0.1 0.91
1.2295 0.1 0.77
1.2301 0.1 0.63
1.2308 0.1 0.47
1.2316 0.1 0.32
1.2325 0.1 0.23
1.234 0.1 0.15
1.2365 0.1 0.09
1.2395 0.1 0.02
1.2415 0.1 -0.02
1.243 0.1 -0.06
1.2442 0.1 -0.13
1.2452 0.1 -0.28
1.246 0.1 -0.43
1.2467 0.1 -0.6
1.2474 0.1 -0.755
1.248 0.1 -0.85
1.2485 0.1 -0.965
1.2489 0.1 -1.02
1.2493 0.1 -0.925
1.2497 0.1 -0.835
1.2503 0.1 -0.71
1.2506 0.1 -0.63
1.251 0.1 -0.53
1.2515 0.1 -0.39
1.252 0.1 -0.28
1.2525 0.1 -0.21
1.253 0.1 -0.16
1.2536 0.1 -0.12
1.2542 0.1 -0.09
1.256 0.1 -0.05
1.259 0.1 -0.025
1.263 0.1 -0.01
1.2675 0.1 0
1.2707 0.1 0

1.2031 0 0
1.212 0 0
1.219 0 0.005
1.2215 0 0.04
1.2228 0 0.08
1.2238 0 0.13
1.2247 0 0.22
1.2255 0 0.34
1.2262 0 0.55
1.2268 0 0.78
1.2273 0 1.0
1.2278 0 1.19
1.2283 0 1.06
1.2289 0 0.93
1.2295 0 0.78
1.2301 0 0.63
1.2308 0 0.47
1.2316 0 0.32
1.2325 0 0.23
1.234 0 0.15
1.2365 0 0.09
1.2395 0 0.02
1.2415 0 -0.02
1.243 0 -0.06
1.2442 0 -0.13
1.2452 0 -0.28
1.246 0 -0.44
1.2467 0 -0.62
1.2474 0 -0.78
1.248 0 -0.88
1.2485 0 -1.0
1.2489 0 -1.07
1.2493 0 -0.95
1.2497 0 -0.85
1.2503 0 -0.72
1.2506 0 -0.63
1.251 0 -0.53
1.2515 0 -0.39
1.252 0 -0.28
1.2525 0 -0.21
1.253 0 -0.16
1.2536 0 -0.12
1.2542 0 -0.09
1.256 0 -0.05
1.259 0 -0.025
1.263 0 -0.01
1.2675 0 0
1.27 0 0
};
\end{axis}
\end{tikzpicture}
\end{document}
